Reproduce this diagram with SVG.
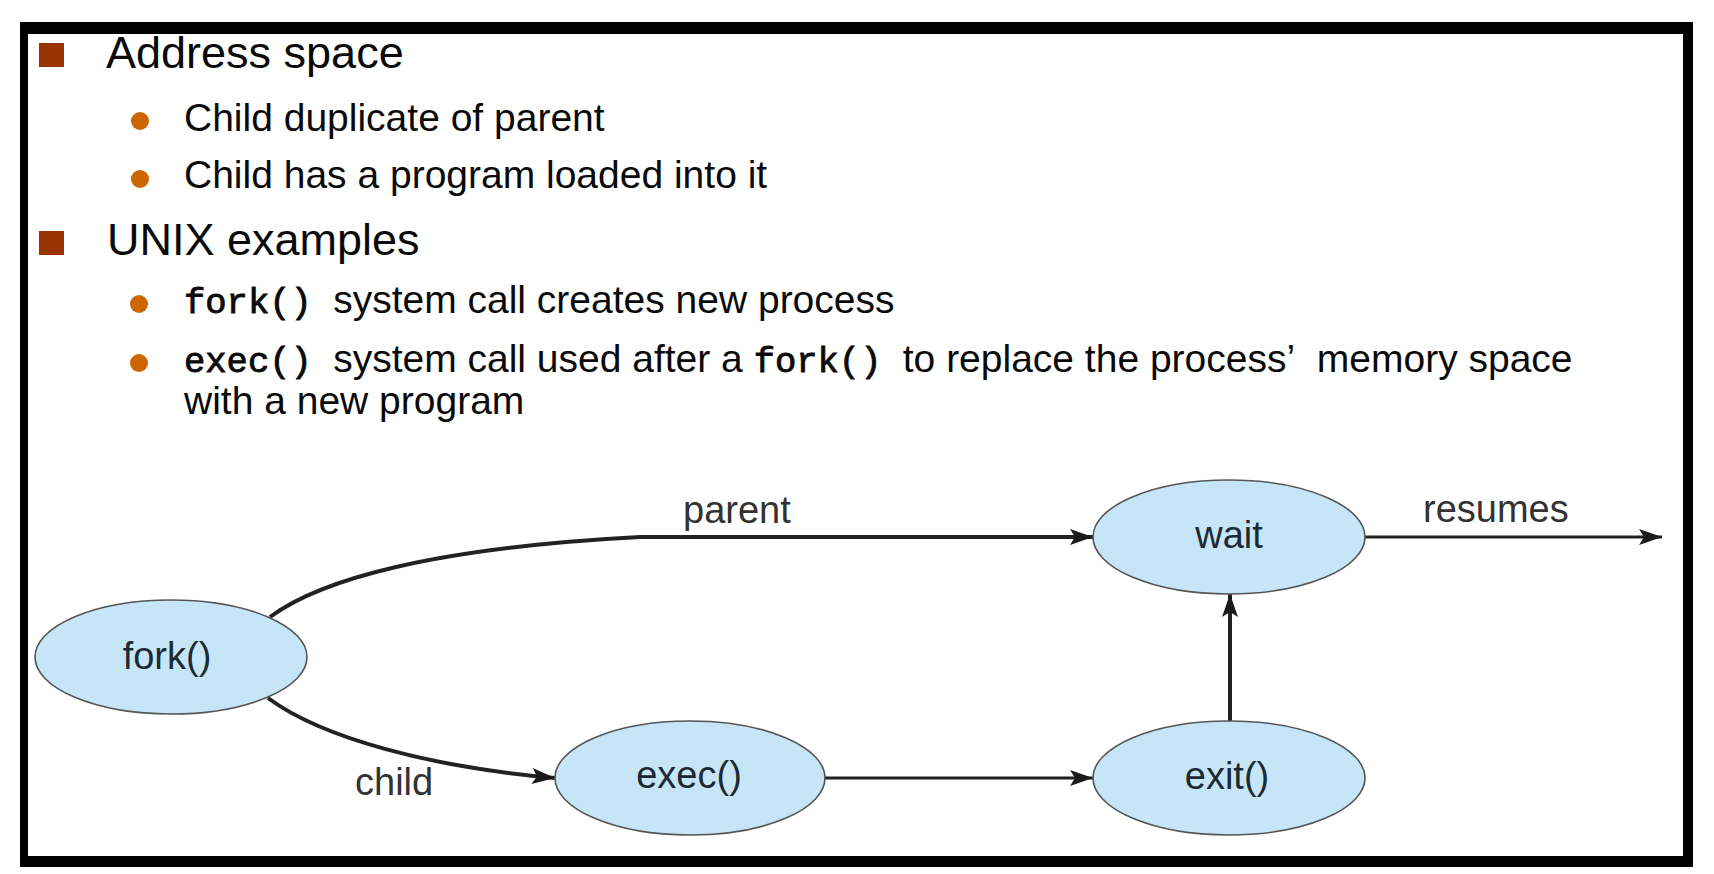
<svg xmlns="http://www.w3.org/2000/svg" width="1714" height="874" viewBox="0 0 1714 874">
<defs>
<style>
.head{font-family:"Liberation Sans",Arial,sans-serif;font-size:45px;fill:#0a0a0a}
.sub{font-family:"Liberation Sans",Arial,sans-serif;font-size:39px;fill:#0a0a0a}
.mono{font-family:"Liberation Mono","Courier New",monospace;font-size:35.5px;font-weight:normal;stroke:#0a0a0a;stroke-width:0.9}
.sq{fill:#993300}
.dot{fill:#cc6600}
.node{fill:#c6e6f8;stroke:#555;stroke-width:1.6}
.nlabel{font-family:"Liberation Sans",Arial,sans-serif;font-size:38px;fill:#1c2a33;text-anchor:middle}
.elabel{font-family:"Liberation Sans",Arial,sans-serif;font-size:38px;fill:#333}
.edge{fill:none;stroke:#222;stroke-width:3}
.thick{stroke-width:4}
</style>
<marker id="arr" markerUnits="userSpaceOnUse" markerWidth="26" markerHeight="18" refX="23" refY="8" orient="auto">
<path d="M0,0 L23,8 L0,16 L5,8 Z" fill="#1a1a1a"/>
</marker>
</defs>
<rect x="0" y="0" width="1714" height="874" fill="#fff"/>
<path d="M20,22 H1693 V867 H20 Z M28,34 V856 H1683 V34 Z" fill="#000" fill-rule="evenodd"/>

<g id="text">
<rect class="sq" x="39" y="43" width="25" height="24"/>
<text class="head" x="106" y="68">Address space</text>
<circle class="dot" cx="140" cy="121" r="9"/>
<text class="sub" x="184" y="131">Child duplicate of parent</text>
<circle class="dot" cx="140" cy="179" r="9"/>
<text class="sub" x="184" y="188">Child has a program loaded into it</text>
<rect class="sq" x="39" y="231" width="25" height="24"/>
<text class="head" x="107" y="255">UNIX examples</text>
<circle class="dot" cx="139" cy="304" r="9"/>
<text class="sub" x="184" y="313"><tspan class="mono">fork() </tspan>system call creates new process</text>
<circle class="dot" cx="139" cy="363" r="9"/>
<text class="sub" x="184" y="372"><tspan class="mono">exec() </tspan>system call used after a <tspan class="mono">fork() </tspan>to replace the process’&#160; memory space</text>
<text class="sub" x="184" y="414">with a new program</text>
</g>

<g id="connectors">
<path class="edge thick" d="M270,617 C320,580 430,548 640,537 L1093,537" marker-end="url(#arr)"/>
<path class="edge" d="M1365,537 L1662,537" marker-end="url(#arr)"/>
<path class="edge thick" d="M268,698 C322,738 430,767 555,778" marker-end="url(#arr)"/>
<path class="edge" d="M825,778 L1093,778" marker-end="url(#arr)"/>
<path class="edge thick" d="M1230,721 L1230,594" marker-end="url(#arr)"/>
<text class="elabel" x="683" y="523">parent</text>
<text class="elabel" x="1423" y="522">resumes</text>
<text class="elabel" x="355" y="795">child</text>
</g>

<g id="node-fork">
<ellipse class="node" cx="171" cy="657" rx="136" ry="57"/>
<text class="nlabel" x="167" y="669">fork()</text>
</g>
<g id="node-exec">
<ellipse class="node" cx="690" cy="778" rx="135" ry="57"/>
<text class="nlabel" x="689" y="788">exec()</text>
</g>
<g id="node-wait">
<ellipse class="node" cx="1229" cy="537" rx="136" ry="57"/>
<text class="nlabel" x="1229" y="548">wait</text>
</g>
<g id="node-exit">
<ellipse class="node" cx="1229" cy="778" rx="136" ry="57"/>
<text class="nlabel" x="1227" y="789">exit()</text>
</g>
</svg>
